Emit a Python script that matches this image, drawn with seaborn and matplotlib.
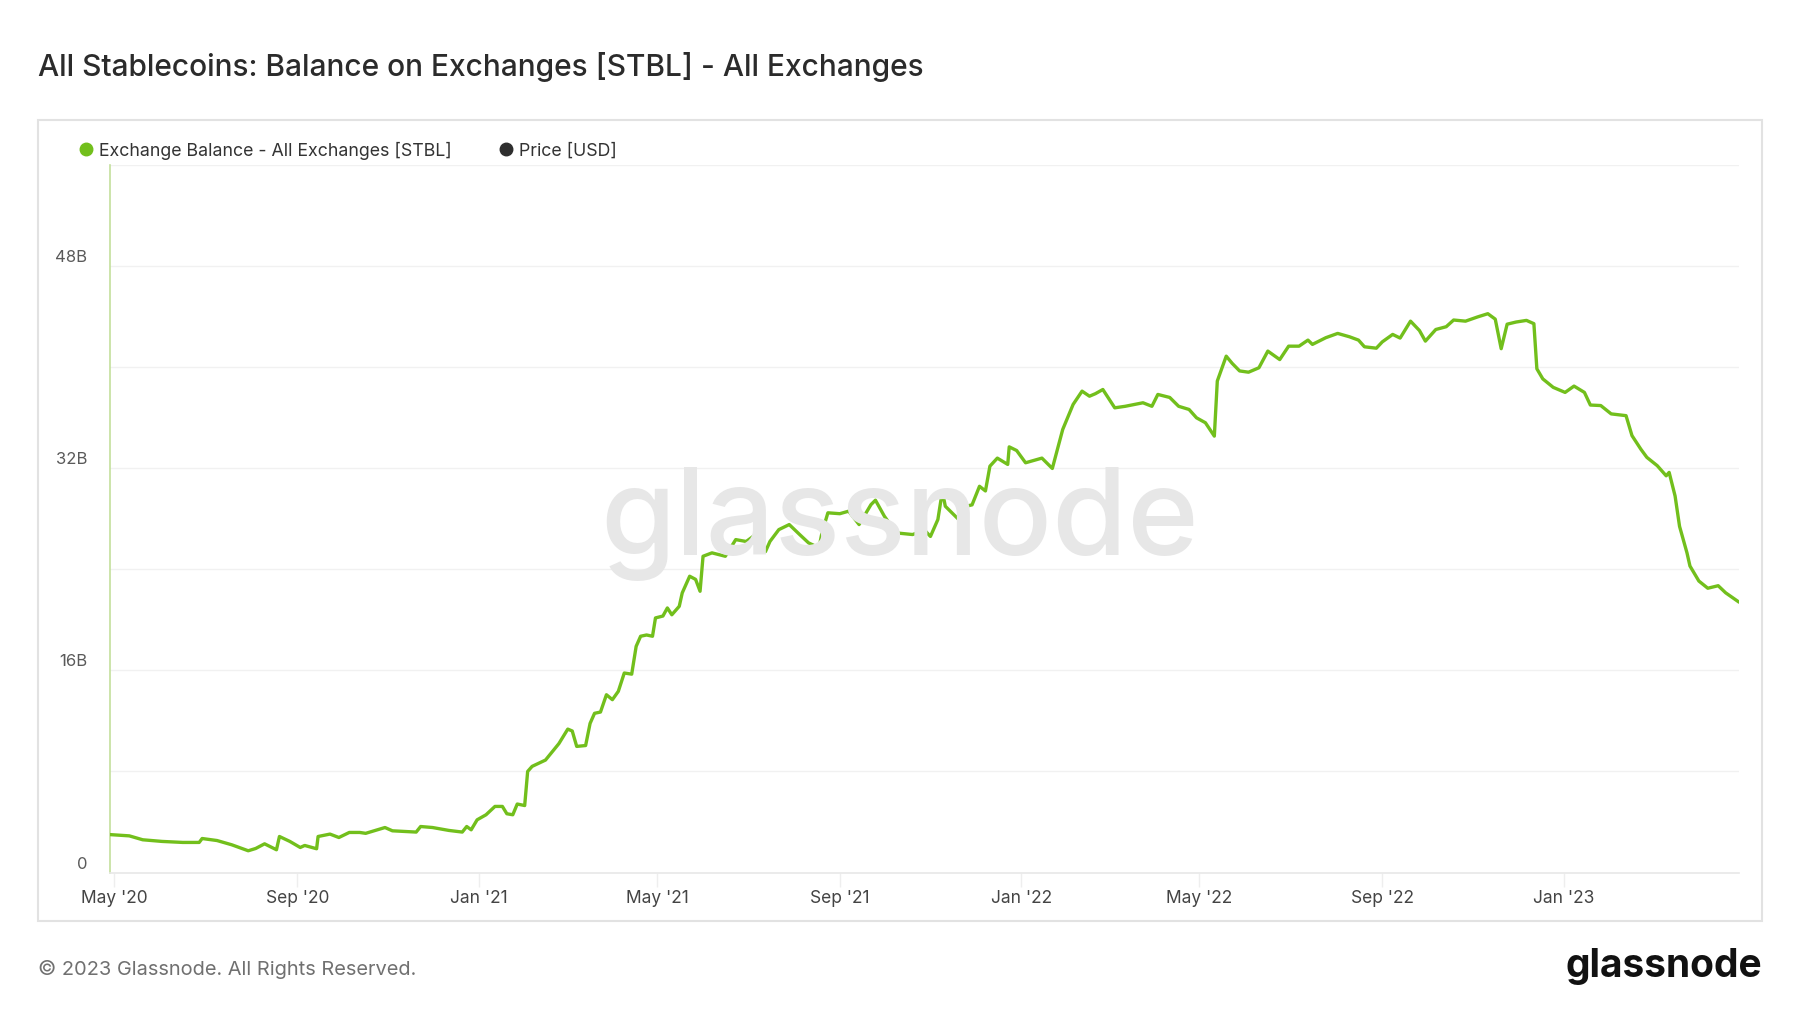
import numpy as np
import pandas as pd
import matplotlib
matplotlib.use("Agg")
import matplotlib.pyplot as plt
import seaborn as sns
from matplotlib.lines import Line2D
from matplotlib.patches import Rectangle
from matplotlib.ticker import FixedLocator, FuncFormatter
from matplotlib.transforms import ScaledTranslation

# ---------------- data ----------------
start_date = "2020-05-01"
days_since_start = [
    -3, 10, 19, 32, 46, 57, 59, 69, 79, 90,
    95, 101, 109, 111, 118, 125, 128, 136, 137, 145,
    151, 158, 165, 169, 182, 187, 203, 206, 214, 225,
    234, 237, 240, 244, 250, 256, 261, 264, 268, 271,
    276, 278, 281, 290, 299, 305, 308, 311, 317, 320,
    323, 327, 331, 335, 339, 343, 348, 351, 354, 358,
    362, 364, 369, 372, 375, 380, 382, 387, 391, 394,
    396, 402, 411, 418, 425, 433, 438, 441, 447, 454,
    461, 467, 474, 476, 480, 488, 494, 501, 509, 512,
    518, 526, 537, 545, 549, 554, 557, 559, 568, 573,
    577, 582, 586, 589, 594, 601, 602, 607, 613, 618,
    624, 631, 638, 645, 651, 656, 660, 665, 673, 680,
    692, 698, 702, 710, 716, 723, 728, 734, 740, 742,
    748, 752, 757, 763, 770, 776, 784, 790, 797, 803,
    806, 815, 823, 831, 837, 841, 849, 853, 860, 865,
    872, 878, 882, 889, 896, 901, 909, 917, 924, 929,
    933, 937, 943, 950, 955, 957, 961, 968, 976, 982,
    989, 993, 1000, 1007, 1017, 1021, 1027, 1031, 1038, 1044,
    1046, 1050, 1053, 1058, 1060, 1066, 1072, 1079, 1084, 1093,
]
balance_billions = [
    3.0, 2.9, 2.59, 2.46, 2.38, 2.38, 2.69, 2.53, 2.19, 1.72,
    1.90, 2.27, 1.80, 2.85, 2.46, 1.98, 2.14, 1.88, 2.85, 3.04,
    2.77, 3.17, 3.17, 3.1, 3.56, 3.30, 3.2, 3.64, 3.56, 3.33,
    3.2, 3.64, 3.38, 4.17, 4.57, 5.23, 5.23, 4.65, 4.57, 5.42,
    5.3, 8.0, 8.4, 8.9, 10.2, 11.35, 11.2, 9.98, 10.05, 11.8,
    12.6, 12.7, 14.07, 13.68, 14.34, 15.79, 15.7, 17.9, 18.7, 18.8,
    18.7, 20.15, 20.3, 20.94, 20.4, 21.07, 22.13, 23.45, 23.2, 22.26,
    25.03, 25.3, 25.03, 26.35, 26.2, 26.88, 25.4, 26.2, 27.14, 27.54,
    26.75, 26.09, 25.7, 26.88, 28.47, 28.4, 28.6, 27.54, 29.12, 29.47,
    28.2, 26.88, 26.75, 27.1, 26.6, 27.94, 30.18, 28.99, 27.94, 28.99,
    29.1, 30.57, 30.2, 32.16, 32.8, 32.3, 33.69, 33.4, 32.43, 32.6,
    32.8, 31.98, 35.07, 37.05, 38.1, 37.7, 37.9, 38.23, 36.78, 36.9,
    37.18, 36.9, 37.84, 37.6, 36.9, 36.65, 35.99, 35.6, 34.54, 38.9,
    40.87, 40.3, 39.7, 39.6, 39.95, 41.27, 40.6, 41.66, 41.66, 42.14,
    41.8, 42.33, 42.67, 42.4, 42.14, 41.61, 41.5, 42.0, 42.59, 42.3,
    43.64, 42.9, 42.06, 42.98, 43.2, 43.73, 43.64, 43.97, 44.23, 43.8,
    41.46, 43.4, 43.57, 43.7, 43.44, 39.87, 39.07, 38.4, 38.0, 38.5,
    38.0, 37.0, 36.96, 36.3, 36.16, 34.58, 33.5, 32.86, 32.2, 31.4,
    31.67, 29.8, 27.4, 25.3, 24.26, 23.07, 22.5, 22.7, 22.14, 21.4,
]
x_tick_dates = ["2020-05-01", "2020-09-01", "2021-01-01", "2021-05-01", "2021-09-01",
                "2022-01-01", "2022-05-01", "2022-09-01", "2023-01-01"]
x_tick_labels = ["May '20", "Sep '20", "Jan '21", "May '21", "Sep '21",
                 "Jan '22", "May '22", "Sep '22", "Jan '23"]
y_tick_values_b = [0, 16, 32, 48]
y_tick_labels = ["0", "16B", "32B", "48B"]
y_grid_values_b = [8, 24, 40, 56]
y_max_b = 56

title_text = "All Stablecoins: Balance on Exchanges [STBL] - All Exchanges"
legend_labels = ["Exchange Balance - All Exchanges [STBL]", "Price [USD]"]
footer_text = "\u00a9 2023 Glassnode. All Rights Reserved."
brand_text = "glassnode"

GREEN = "#72bf1c"
DARK = "#2e2e2e"

# ---------------- figure ----------------
sns.set_theme(style="white")
plt.rcParams["font.family"] = ["Inter", "DejaVu Sans"]

W, H = 1800, 1013
fig = plt.figure(figsize=(W / 100, H / 100), dpi=100, facecolor="white")

px_l, px_r, px_t, px_b = 110, 1739, 165, 872.5
ax = fig.add_axes([px_l / W, 1 - px_b / H, (px_r - px_l) / W, (px_b - px_t) / H])
ax.set_facecolor("white")

df = pd.DataFrame({
    "date": pd.Timestamp(start_date) + pd.to_timedelta(days_since_start, unit="D"),
    "balance": np.array(balance_billions) * 1e9,
})

# watermark (behind the line)
fig.text(0.5, 1 - 524 / H, brand_text, ha="center", va="center", fontsize=87.5,
         color="#e7e7e7", fontweight="medium", zorder=0)

sns.lineplot(data=df, x="date", y="balance", ax=ax, color=GREEN, linewidth=2.4,
             zorder=3, legend=False)

ax.set_xlim(df["date"].iloc[0], df["date"].iloc[-1])
ax.set_ylim(0, y_max_b * 1e9)

# y axis
ax.yaxis.set_major_locator(FixedLocator([v * 1e9 for v in y_tick_values_b]))
ax.yaxis.set_minor_locator(FixedLocator([v * 1e9 for v in y_grid_values_b]))
ax.yaxis.set_major_formatter(FuncFormatter(
    lambda v, p: dict(zip([t * 1e9 for t in y_tick_values_b], y_tick_labels)).get(v, "")))
ax.grid(True, axis="y", which="both", color="#f1f1f1", linewidth=1.0)
ax.grid(False, axis="x")
ax.tick_params(axis="y", which="both", length=0, pad=16.5, labelsize=12, labelcolor="#5a5a5a")
for lab in ax.get_yticklabels():
    lab.set_transform(lab.get_transform() + ScaledTranslation(0, 0.10, fig.dpi_scale_trans))

# x axis
ax.set_xticks(pd.to_datetime(x_tick_dates))
ax.set_xticklabels(x_tick_labels)
ax.tick_params(axis="x", length=10, width=1, color="#eeeeee", pad=2.5, labelsize=12.5,
               labelcolor="#444444", bottom=True)
ax.set_xlabel("")
ax.set_ylabel("")

for s in ["top", "right"]:
    ax.spines[s].set_visible(False)
ax.spines["left"].set_color("#c3df9c")
ax.spines["left"].set_linewidth(1.2)
ax.spines["bottom"].set_color("#e8e8e8")
ax.spines["bottom"].set_linewidth(1.2)

# frame around chart panel
fig.patches.append(Rectangle((38 / W, 1 - 921 / H), (1762 - 38) / W, (921 - 120.5) / H,
                             transform=fig.transFigure, facecolor="none",
                             edgecolor="#e2e2e2", linewidth=1.5, zorder=0))

# legend
handles = [Line2D([], [], marker="o", linestyle="", color=GREEN, markersize=9),
           Line2D([], [], marker="o", linestyle="", color=DARK, markersize=9)]
fig.legend(handles, legend_labels, loc="center left", bbox_to_anchor=(79 / W, 1 - 150.5 / H),
           ncol=2, frameon=False, fontsize=12.8, handlelength=0.8, handletextpad=0.35,
           columnspacing=2.6, borderpad=0, borderaxespad=0, labelcolor="#333333")

# title / footer
fig.text(38 / W, 1 - 66.5 / H, title_text, ha="left", va="center", fontsize=21.5,
         color="#2b2b2b", fontweight="medium")
fig.text(38 / W, 1 - 969 / H, footer_text, ha="left", va="center", fontsize=14.4,
         color="#707070")
fig.text(1762 / W, 1 - 966 / H, brand_text, ha="right", va="center", fontsize=28,
         color="#111111", fontweight="bold")

fig.savefig("out.png", dpi=100, facecolor="white")
